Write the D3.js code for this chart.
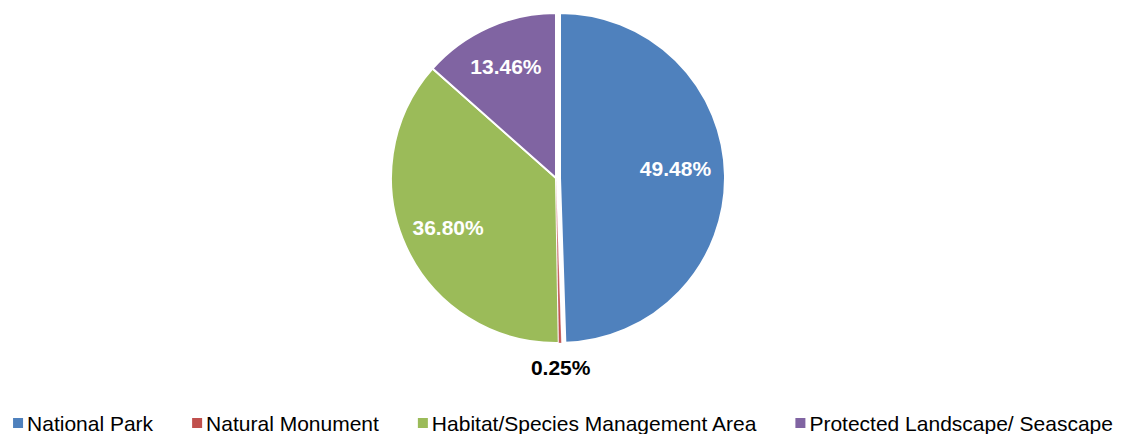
<!DOCTYPE html>
<html><head><meta charset="utf-8">
<script src="https://cdn.jsdelivr.net/npm/d3@7"></script>
<style>body{margin:0;background:#fff;}svg{display:block;font-family:"Liberation Sans",Arial,sans-serif;}</style>
</head><body><svg id="c" width="1121" height="434"></svg>
<script>
const categories = ["National Park","Natural Monument","Habitat/Species Management Area","Protected Landscape/ Seascape"];
const values = [49.48, 0.25, 36.80, 13.46];
const labels = ["49.48%","0.25%","36.80%","13.46%"];
const colors = ["#4F81BD","#C0504D","#9BBB59","#8064A2"];

const svg = d3.select("#c");
const cx = 556, cy = 178, R = 165;
const data = categories.map((c,i)=>({name:c,value:values[i],label:labels[i],color:colors[i],i}));
const pie = d3.pie().sort(null).value(d=>d.value);
const arcs = pie(data);
const arc = d3.arc().innerRadius(0).outerRadius(R);
const g = svg.append("g").attr("transform",`translate(${cx},${cy})`);
const explode = [4,0,0,0];
const order = [0,2,3,1];
order.forEach(i=>{
  const a=arcs[i];
  const mid=(a.startAngle+a.endAngle)/2;
  const off=explode[i];
  const dx=Math.sin(mid)*off, dy=-Math.cos(mid)*off;
  g.append("path").attr("d",arc(a)).attr("fill",a.data.color)
   .attr("stroke","#fff").attr("stroke-width",i===1?0.3:2).attr("stroke-linejoin","round")
   .attr("transform",`translate(${dx},${dy})`);
});
const lr = [0.70,1.15,0.72,0.74];
const ladj = [-8,0,0,0];
arcs.forEach(a=>{
  const mid=(a.startAngle+a.endAngle)/2;
  const r=R*lr[a.data.i];
  const off=explode[a.data.i];
  const x=Math.sin(mid)*(r+off), y=-Math.cos(mid)*(r+off)+ladj[a.data.i];
  g.append("text").attr("x",x).attr("y",y).attr("dy","0.36em")
   .attr("text-anchor","middle").attr("font-size",21).attr("font-weight","bold")
   .attr("fill",a.data.i===1?"#000":"#fff").text(a.data.label);
});
// legend
const lg = svg.append("g");
let x=0;
data.forEach(d=>{
  const it=lg.append("g");
  it.append("rect").attr("x",0).attr("y",-13).attr("width",10).attr("height",10).attr("fill",d.color);
  const t=it.append("text").attr("x",14).attr("y",0).attr("font-size",21).attr("fill","#000").text(d.name);
  const w=14+t.node().getComputedTextLength();
  it.attr("transform",`translate(${x},0)`);
  x+=w+39;
});
const total=x-39;
lg.attr("transform",`translate(${563-total/2},431)`);
</script></body></html>
